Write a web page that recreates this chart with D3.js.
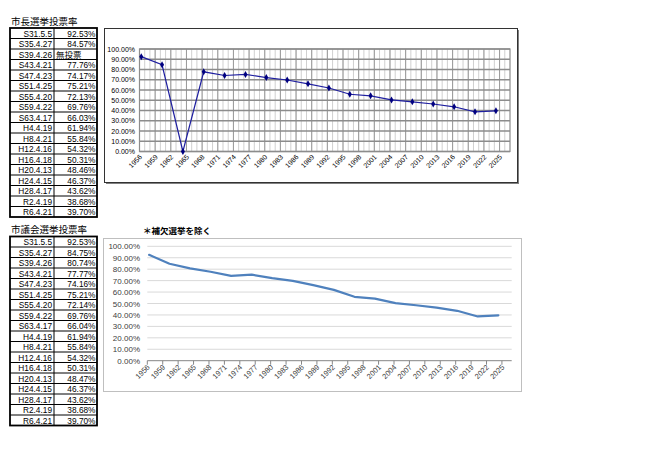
<!DOCTYPE html>
<html><head><meta charset="utf-8">
<script src="https://cdn.jsdelivr.net/npm/d3@7"></script>
<style>body{margin:0;background:#fff}svg{display:block}</style>
</head><body>
<script>
// ---- data ----
const eraLabels = ["S31.5.5","S35.4.27","S39.4.26","S43.4.21","S47.4.23","S51.4.25","S55.4.20","S59.4.22","S63.4.17","H4.4.19","H8.4.21","H12.4.16","H16.4.18","H20.4.13","H24.4.15","H28.4.17","R2.4.19","R6.4.21"];
const electionDates = ["1956-05-05","1960-04-27","1964-04-26","1968-04-21","1972-04-23","1976-04-25","1980-04-20","1984-04-22","1988-04-17","1992-04-19","1996-04-21","2000-04-16","2004-04-18","2008-04-13","2012-04-15","2016-04-17","2020-04-19","2024-04-21"];
const mayorTurnout = [92.53,84.57,0,77.76,74.17,75.21,72.13,69.76,66.03,61.94,55.84,54.32,50.31,48.46,46.37,43.62,38.68,39.70];
const mayorTurnoutText = ["92.53%","84.57%","無投票","77.76%","74.17%","75.21%","72.13%","69.76%","66.03%","61.94%","55.84%","54.32%","50.31%","48.46%","46.37%","43.62%","38.68%","39.70%"];
const councilTurnout = [92.53,84.75,80.74,77.77,74.16,75.21,72.14,69.76,66.04,61.94,55.84,54.32,50.31,48.47,46.37,43.62,38.68,39.70];
const yTicks = [0,10,20,30,40,50,60,70,80,90,100];
const xTickYears = d3.range(1956, 2026, 3);
const mayorTitle = "市長選挙投票率";
const councilTitle = "市議会選挙投票率";
const noteText = "＊補欠選挙を除く";

function yearFrac(s){
  const d = new Date(s+"T00:00:00Z");
  const y = d.getUTCFullYear();
  const s0 = Date.UTC(y,0,1), s1 = Date.UTC(y+1,0,1);
  return y + (d - s0)/(s1 - s0);
}
const years = electionDates.map(yearFrac);

const svg = d3.select("body").append("svg").attr("width",650).attr("height",457);
const jp = "'Noto Sans CJK JP', sans-serif";
const num = "'Liberation Sans', Arial, sans-serif";

// ---- tables ----
function drawTable(top, titleY, title, valTexts){
  const left = 10, mid = 54, right = 97, rowH = 10.5;
  svg.append("text").attr("x",11).attr("y",titleY).attr("font-family",jp).attr("font-size",9.5)
    .attr("fill","#000").text(title);
  const g = svg.append("g");
  const n = eraLabels.length;
  eraLabels.forEach((lab,i)=>{
    const y = top + i*rowH;
    g.append("text").attr("x",mid-2).attr("y",y+rowH-2).attr("text-anchor","end")
      .attr("font-family",num).attr("font-size",8.3).attr("fill","#000").text(lab);
    const vt = valTexts[i];
    const isNum = /%$/.test(vt);
    g.append("text").attr("x",isNum?right-1.5:mid+2).attr("y",y+rowH-2)
      .attr("text-anchor",isNum?"end":"start")
      .attr("font-family",isNum?num:jp).attr("font-size",isNum?8.3:8.5).attr("fill","#000").text(vt);
    if(i>0) g.append("line").attr("x1",left).attr("x2",right).attr("y1",y).attr("y2",y)
      .attr("stroke","#000").attr("stroke-width",1);
  });
  g.append("line").attr("x1",mid).attr("x2",mid).attr("y1",top).attr("y2",top+n*rowH)
    .attr("stroke","#000").attr("stroke-width",1);
  g.append("rect").attr("x",left).attr("y",top).attr("width",right-left).attr("height",n*rowH)
    .attr("fill","none").attr("stroke","#000").attr("stroke-width",1.8);
}
drawTable(28, 24.5, mayorTitle, mayorTurnoutText);
drawTable(236.5, 233, councilTitle, councilTurnout.map(v=>v.toFixed(2)+"%"));

// ---- top chart (mayor) ----
{
  svg.append("rect").attr("x",106).attr("y",30).attr("width",413).attr("height",154).attr("fill","#808080");
  svg.append("rect").attr("x",104.5).attr("y",28.5).attr("width",413).attr("height",154)
    .attr("fill","#fff").attr("stroke","#333").attr("stroke-width",1);
  const x = d3.scaleLinear().domain([1956,2027]).range([139.5,510]);
  const y = d3.scaleLinear().domain([0,100]).range([151.5,49]);
  const g = svg.append("g");
  g.selectAll(".vmin").data(d3.range(1957,2027)).join("line")
    .attr("x1",d=>x(d)).attr("x2",d=>x(d)).attr("y1",y(0)).attr("y2",y(100))
    .attr("stroke","#d0d0d0").attr("stroke-width",1);
  g.selectAll(".vmaj").data(xTickYears.slice(1)).join("line")
    .attr("x1",d=>x(d)).attr("x2",d=>x(d)).attr("y1",y(0)).attr("y2",y(100))
    .attr("stroke","#9a9a9a").attr("stroke-width",1);
  g.selectAll(".h").data(yTicks).join("line")
    .attr("x1",x.range()[0]).attr("x2",x.range()[1]).attr("y1",d=>y(d)).attr("y2",d=>y(d))
    .attr("stroke","#8c8c8c").attr("stroke-width",1.5);
  g.append("rect").attr("x",x.range()[0]).attr("y",y(100)).attr("width",x.range()[1]-x.range()[0])
    .attr("height",y(0)-y(100)).attr("fill","none").attr("stroke","#8c8c8c").attr("stroke-width",1.2);
  g.selectAll(".yl").data(yTicks).join("text")
    .attr("x",135).attr("y",d=>y(d)+2.5).attr("text-anchor","end")
    .attr("font-family",num).attr("font-size",7).attr("fill","#000").text(d=>d.toFixed(2)+"%");
  g.selectAll(".xl").data(xTickYears).join("text")
    .attr("transform",d=>`translate(${x(d)+3},${y(0)+6}) rotate(-45)`).attr("text-anchor","end")
    .attr("font-family",num).attr("font-size",7).attr("fill","#000").text(d=>d);
  const pts = years.map((yr,i)=>[x(yr),y(mayorTurnout[i])]);
  g.append("path").attr("d",d3.line()(pts)).attr("fill","none").attr("stroke","#1f1fa0").attr("stroke-width",1.2);
  g.selectAll(".m").data(pts).join("path")
    .attr("transform",d=>`translate(${d[0]},${d[1]})`)
    .attr("d",d3.symbol(d3.symbolDiamond,14)).attr("fill","#000080");
}

// ---- bottom chart (council) ----
{
  svg.append("text").attr("x",143).attr("y",234).attr("font-family",jp).attr("font-size",8.5)
    .attr("font-weight","bold").attr("fill","#000").text(noteText);
  svg.append("rect").attr("x",103.5).attr("y",238.5).attr("width",418).attr("height",153)
    .attr("fill","#fff").attr("stroke","#bfbfbf").attr("stroke-width",1);
  const x = d3.scaleLinear().domain([1956,2026.9]).range([147.3,511.7]);
  const y = d3.scaleLinear().domain([0,100]).range([360.7,246.3]);
  const g = svg.append("g");
  g.selectAll(".h").data(yTicks.slice(1)).join("line")
    .attr("x1",x.range()[0]).attr("x2",x.range()[1]).attr("y1",d=>y(d)).attr("y2",d=>y(d))
    .attr("stroke","#d9d9d9").attr("stroke-width",1);
  g.append("line").attr("x1",x.range()[0]).attr("x2",x.range()[1]).attr("y1",y(0)).attr("y2",y(0))
    .attr("stroke","#868686").attr("stroke-width",1);
  g.selectAll(".t").data(xTickYears).join("line")
    .attr("x1",d=>x(d)).attr("x2",d=>x(d)).attr("y1",y(0)).attr("y2",y(0)+4)
    .attr("stroke","#868686").attr("stroke-width",1);
  g.selectAll(".yl").data(yTicks).join("text")
    .attr("x",140).attr("y",d=>y(d)+3).attr("text-anchor","end")
    .attr("font-family",num).attr("font-size",8).attr("fill","#404040").text(d=>d.toFixed(2)+"%");
  g.selectAll(".xl").data(xTickYears).join("text")
    .attr("transform",d=>`translate(${x(d)+3},${y(0)+7}) rotate(-45)`).attr("text-anchor","end")
    .attr("font-family",num).attr("font-size",7.5).attr("fill","#404040").text(d=>d);
  const pts = years.map((yr,i)=>[x(yr),y(councilTurnout[i])]);
  g.append("path").attr("d",d3.line()(pts)).attr("fill","none").attr("stroke","#4f81bd")
    .attr("stroke-width",2.2).attr("stroke-linejoin","round").attr("stroke-linecap","round");
}
</script>
</body></html>
